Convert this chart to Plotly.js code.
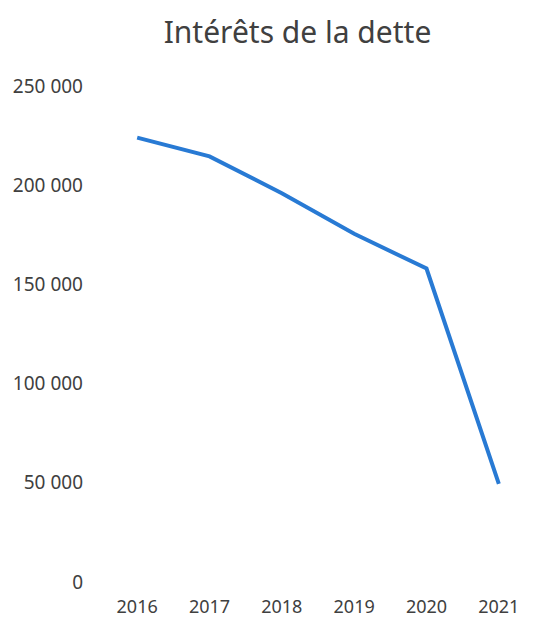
<!DOCTYPE html>
<html>
<head>
<meta charset="utf-8">
<script src="https://cdn.plot.ly/plotly-3.0.1.min.js"></script>
<style>html,body{margin:0;padding:0;background:#fff;}#chart{width:555px;height:621px;}</style>
</head>
<body>
<div id="chart"></div>
<script>
const years = ["2016", "2017", "2018", "2019", "2020", "2021"];
const interets = [224000, 214500, 196000, 175500, 158000, 49500];
const yTickVals = [0, 50000, 100000, 150000, 200000, 250000];
const yTickText = ["0", "50 000", "100 000", "150 000", "200 000", "250 000"];
const titleText = "Intérêts de la dette";

const trace = {
  x: years,
  y: interets,
  type: "scatter",
  mode: "lines",
  line: {color: "rgb(40,122,212)", width: 4},
  hoverinfo: "x+y"
};

const layout = {
  width: 555,
  height: 621,
  paper_bgcolor: "#ffffff",
  plot_bgcolor: "#ffffff",
  margin: {l: 101, r: 20, t: 86, b: 39},
  showlegend: false,
  font: {family: "Noto Sans, Open Sans, sans-serif", color: "#404040"},
  title: {
    text: titleText,
    font: {size: 30, color: "#404040", family: "Noto Sans, Open Sans, sans-serif"},
    x: 0.536, xanchor: "center",
    y: 0.948, yanchor: "middle"
  },
  xaxis: {
    type: "category",
    range: [-0.5, 5.5],
    showgrid: false,
    zeroline: false,
    showline: false,
    ticks: "",
    ticklabelstandoff: 12,
    tickfont: {size: 18, color: "#404040"}
  },
  yaxis: {
    range: [0, 250000],
    tickvals: yTickVals,
    ticktext: yTickText,
    showgrid: false,
    zeroline: false,
    showline: false,
    ticks: "",
    ticklabelstandoff: 17,
    tickfont: {size: 19, color: "#404040"}
  }
};

Plotly.newPlot("chart", [trace], layout, {displayModeBar: false, staticPlot: true});
</script>
</body>
</html>
